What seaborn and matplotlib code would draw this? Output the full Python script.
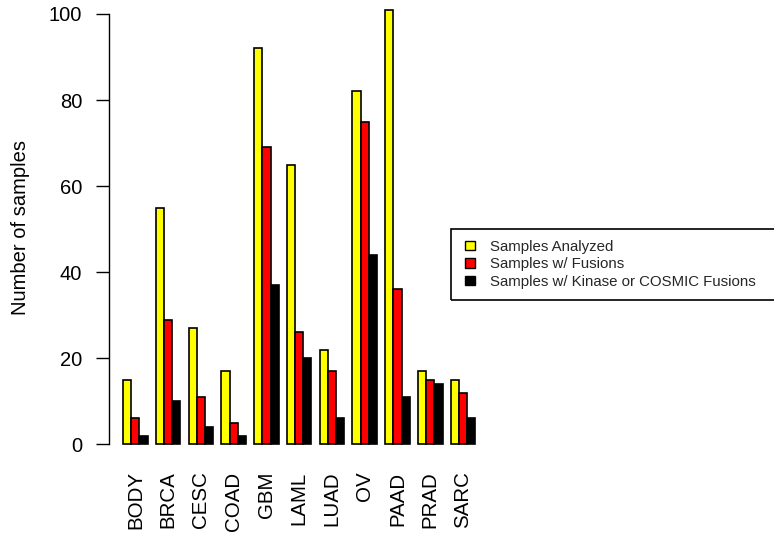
import matplotlib
matplotlib.use('Agg')
import matplotlib.pyplot as plt
import seaborn as sns
import pandas as pd
from matplotlib.patches import Patch, Rectangle

categories = ["BODY", "BRCA", "CESC", "COAD", "GBM", "LAML", "LUAD", "OV", "PAAD", "PRAD", "SARC"]
analyzed = [15, 55, 27, 17, 92, 65, 22, 82, 101, 17, 15]
fusions = [6, 29, 11, 5, 69, 26, 17, 75, 36, 15, 12]
kinase = [2, 10, 4, 2, 37, 20, 6, 44, 11, 14, 6]
series_names = ["Samples Analyzed", "Samples w/ Fusions", "Samples w/ Kinase or COSMIC Fusions"]
colors = ["#FFFF00", "#FF0000", "#000000"]
yticks = [0, 20, 40, 60, 80, 100]

rows = []
for name, vals in zip(series_names, [analyzed, fusions, kinase]):
    for c, v in zip(categories, vals):
        rows.append({"category": c, "series": name, "value": v})
df = pd.DataFrame(rows)

sns.set_theme(style="white")
plt.rcParams['font.family'] = ['Liberation Sans', 'DejaVu Sans']

W, H = 774, 540
fig = plt.figure(figsize=(W / 100, H / 100), dpi=100)
ax = fig.add_axes([109 / W, 78.3 / H, 380.4 / W, 469.4 / H])

sns.barplot(data=df, x="category", y="value", hue="series", order=categories,
            hue_order=series_names, palette=colors, saturation=1, width=0.75,
            edgecolor="black", linewidth=1.2, ax=ax, legend=False, errorbar=None)

ax.set_xlim(-0.805, 10.805)
ax.set_ylim(-4.04, 105.04)
for s in ["top", "right", "bottom"]:
    ax.spines[s].set_visible(False)
ax.spines["left"].set_bounds(0, 100)
ax.spines["left"].set_linewidth(1.0)
ax.spines["left"].set_color("black")
ax.set_yticks(yticks)
ax.set_yticklabels([str(t) for t in yticks])
ax.tick_params(axis="y", which="major", left=True, length=9.4, width=1.0,
               color="black", pad=10, labelsize=14.5, labelcolor="black")
ax.tick_params(axis="x", length=0, pad=7, labelsize=14.8, labelcolor="black")
ax.set_xticks(range(len(categories)))
ax.set_xticklabels(categories, rotation=90)
ax.set_xlabel("")
ax.set_ylabel("Number of samples", fontsize=14.5, color="black")
ax.yaxis.set_label_coords(-0.2077, 0.5)
ax.grid(False)

handles = [Patch(facecolor=c, edgecolor="black", linewidth=1.0) for c in colors]
fig.legend(handles, series_names, loc="upper left",
           bbox_to_anchor=(465 / W, 1 - 240 / H), frameon=False, borderpad=0,
           borderaxespad=0, fontsize=10.8, handlelength=0.7, handleheight=0.55,
           handletextpad=0.95, labelspacing=0.22)
fig.patches.append(Rectangle((451 / W, 1 - 300 / H), 340 / W, 71 / H,
                             transform=fig.transFigure, facecolor="none",
                             edgecolor="black", linewidth=1.2))

fig.savefig("out.png", dpi=100)
